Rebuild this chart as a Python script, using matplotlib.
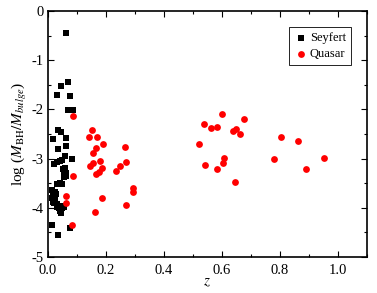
import numpy as np
import matplotlib
matplotlib.use('Agg')
import matplotlib.pyplot as plt
from matplotlib.ticker import MultipleLocator

plt.rcParams['font.family'] = ['Liberation Serif', 'DejaVu Serif']
plt.rcParams['mathtext.fontset'] = 'stix'

# Seyfert galaxies (black squares)
sey_z = [0.064, 0.070, 0.045, 0.030, 0.076, 0.068, 0.087, 0.036, 0.045, 0.064,
         0.016, 0.061, 0.036, 0.059, 0.084, 0.041, 0.050, 0.033, 0.021, 0.053,
         0.058, 0.055, 0.062, 0.057, 0.041, 0.048, 0.032, 0.015, 0.023, 0.028,
         0.018, 0.015, 0.026, 0.018, 0.022, 0.030, 0.030, 0.038, 0.045, 0.050,
         0.055, 0.041, 0.045, 0.013, 0.078, 0.036, 0.060, 0.063]
sey_y = [-0.45, -1.45, -1.52, -1.71, -1.73, -2.01, -2.01, -2.41, -2.46, -2.58,
         -2.60, -2.75, -2.80, -2.95, -3.00, -3.04, -3.03, -3.06, -3.10, -3.22,
         -3.25, -3.28, -3.30, -3.38, -3.50, -3.52, -3.52, -3.63, -3.68, -3.72,
         -3.77, -3.80, -3.82, -3.88, -3.90, -3.92, -3.98, -4.00, -3.96, -4.00,
         -3.98, -4.07, -4.10, -4.35, -4.41, -4.56, -3.20, -3.35]

# Quasars (red circles)
qso_z = [0.087, 0.153, 0.142, 0.171, 0.190, 0.166, 0.156, 0.266, 0.179, 0.156,
         0.269, 0.146, 0.248, 0.185, 0.234, 0.177, 0.166, 0.087, 0.294, 0.292,
         0.064, 0.185, 0.064, 0.268, 0.164, 0.082,
         0.600, 0.678, 0.539, 0.564, 0.582, 0.637, 0.648, 0.661, 0.520, 0.805,
         0.862, 0.607, 0.605, 0.543, 0.585, 0.779, 0.954, 0.891, 0.645]
qso_y = [-2.13, -2.42, -2.57, -2.55, -2.70, -2.79, -2.89, -2.77, -3.05, -3.08,
         -3.07, -3.16, -3.14, -3.19, -3.25, -3.28, -3.32, -3.35, -3.59, -3.67,
         -3.76, -3.81, -3.91, -3.94, -4.09, -4.34,
         -2.09, -2.20, -2.29, -2.38, -2.36, -2.43, -2.39, -2.50, -2.71, -2.57,
         -2.64, -2.98, -3.08, -3.12, -3.22, -3.01, -2.99, -3.22, -3.47]

fig = plt.figure(figsize=(3.77, 2.93), dpi=100)
ax = fig.add_axes([0.127, 0.123, 0.846, 0.839])

ax.scatter(sey_z, sey_y, marker='s', s=16, color='black', linewidths=0, label='Seyfert')
ax.scatter(qso_z, qso_y, marker='o', s=24, color='red', linewidths=0, label='Quasar')

ax.set_xlim(0, 1.1)
ax.set_ylim(-5, 0)
ax.xaxis.set_major_locator(MultipleLocator(0.2))
ax.xaxis.set_minor_locator(MultipleLocator(0.1))
ax.yaxis.set_major_locator(MultipleLocator(1))
ax.yaxis.set_minor_locator(MultipleLocator(0.5))
ax.xaxis.set_major_formatter(plt.FuncFormatter(lambda v, p: '%.1f' % v))
ax.yaxis.set_major_formatter(plt.FuncFormatter(lambda v, p: '%d' % v))
ax.tick_params(which='both', direction='in', top=True, right=True, labelsize=10.5, width=0.8)
ax.tick_params(axis='y', pad=3)
ax.tick_params(axis='x', pad=5)
ax.tick_params(which='major', length=4)
ax.tick_params(which='minor', length=2.5)
for s in ax.spines.values():
    s.set_linewidth(1.2)

ax.set_xlabel('$z$', fontsize=11, labelpad=-1)
ax.set_ylabel(r'log ($M_{\rm BH}/M_{bulge}$)', fontsize=11, labelpad=2)

leg = ax.legend(loc='upper right', bbox_to_anchor=(0.97, 0.96), fontsize=9,
                handletextpad=0.1, handlelength=1.2, borderpad=0.4,
                labelspacing=0.3, fancybox=False, framealpha=1)
leg.get_frame().set_edgecolor('black')
leg.get_frame().set_linewidth(0.6)

fig.savefig('out.png', dpi=100)
